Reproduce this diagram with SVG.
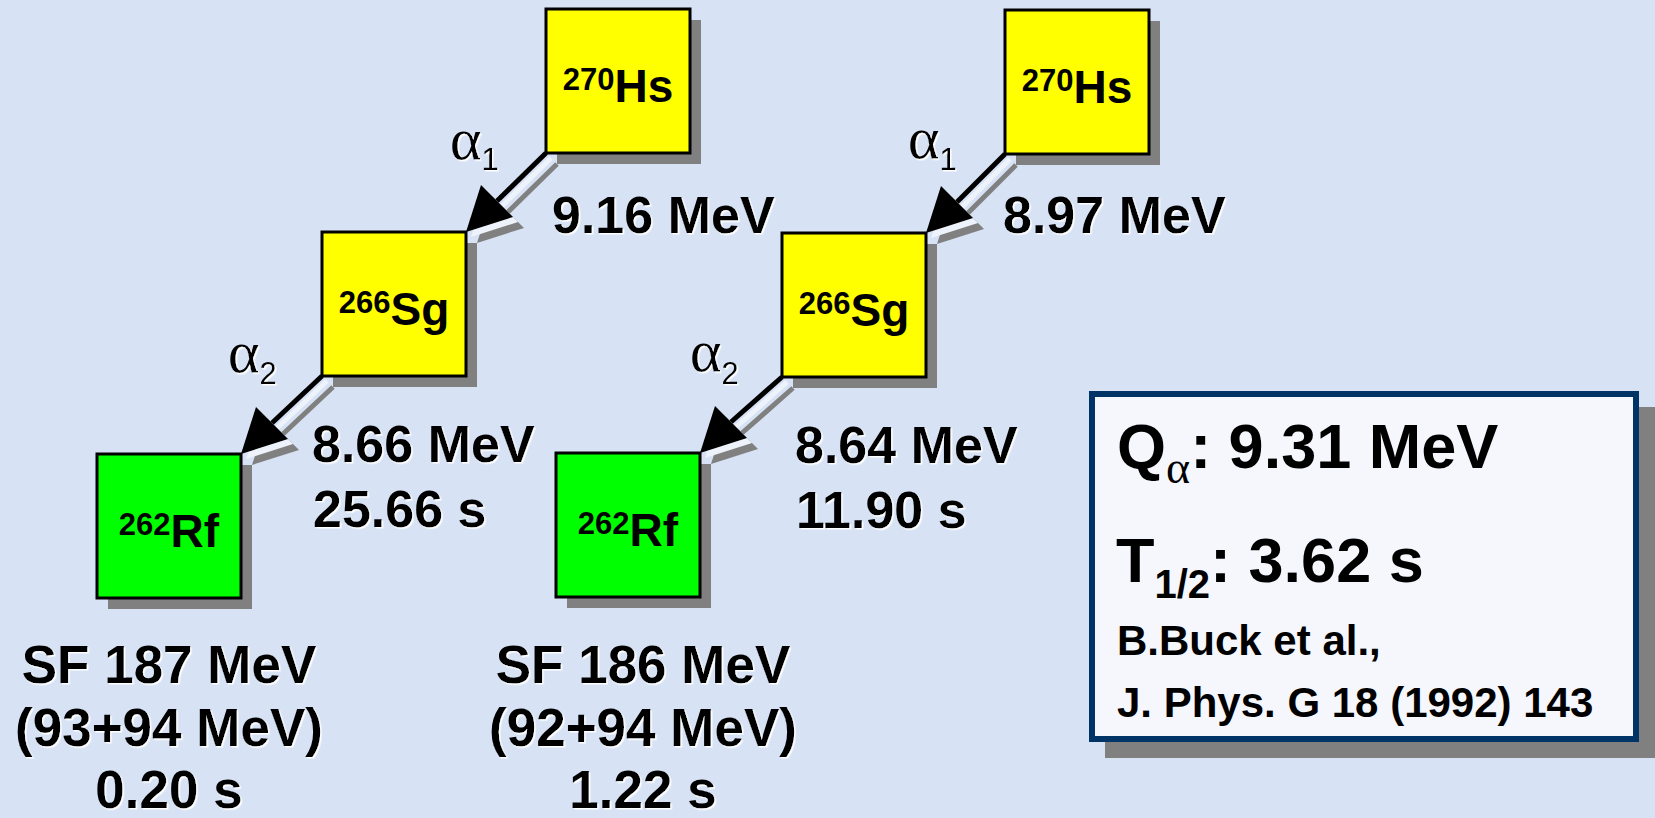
<svg xmlns="http://www.w3.org/2000/svg" width="1655" height="818" viewBox="0 0 1655 818">
<defs>
<filter id="ws" x="-2%" y="-5%" width="106%" height="112%">
<feDropShadow dx="1.5" dy="1.5" stdDeviation="0" flood-color="#ffffff" flood-opacity="1"/>
</filter>
<style>
.box{stroke:#000;stroke-width:3}
.y{fill:#ffff00}
.g{fill:#00ff00}
.sh{fill:#808080}
.nt{font-family:"Liberation Sans",Arial,sans-serif;font-weight:bold;fill:#000;text-anchor:middle}
.sup{font-size:31px}
.el{font-size:46px}
.lbl{font-family:"Liberation Sans",Arial,sans-serif;font-weight:bold;fill:#000;font-size:52px;filter:url(#ws)}
.sf{font-family:"Liberation Sans",Arial,sans-serif;font-weight:bold;fill:#000;font-size:53px;text-anchor:middle;filter:url(#ws)}
.al{font-family:"Liberation Serif","Times New Roman",serif;font-size:60px;fill:#000;filter:url(#ws)}
.sub{font-family:"Liberation Sans",Arial,sans-serif;font-size:31px}
.info{font-family:"Liberation Sans",Arial,sans-serif;font-weight:bold;fill:#000}
.shaft{stroke-width:5;fill:none}
</style>
</defs>
<rect x="0" y="0" width="1655" height="818" fill="#d7e3f5"/>

<g id="connectors">
  <g transform="translate(11,11)">
    <path class="shaft" stroke="#808080" d="M546,153 L497,201"/>
    <path class="sh" d="M466,232 L481,185 L513,217 Z"/>
    <path class="shaft" stroke="#808080" d="M322,376 L272,423"/>
    <path class="sh" d="M241,454 L256,407 L288,439 Z"/>
    <path class="shaft" stroke="#808080" d="M1005,154 L957,202"/>
    <path class="sh" d="M926,233 L941,186 L973,218 Z"/>
    <path class="shaft" stroke="#808080" d="M782,377 L731,422"/>
    <path class="sh" d="M700,453 L715,406 L747,438 Z"/>
  </g>
  <g transform="translate(5,5)" fill="#eef3fb">
    <path class="shaft" stroke="#eef3fb" stroke-width="4" d="M546,153 L497,201"/>
    <path d="M466,232 L481,185 L513,217 Z"/>
    <path class="shaft" stroke="#eef3fb" stroke-width="4" d="M322,376 L272,423"/>
    <path d="M241,454 L256,407 L288,439 Z"/>
    <path class="shaft" stroke="#eef3fb" stroke-width="4" d="M1005,154 L957,202"/>
    <path d="M926,233 L941,186 L973,218 Z"/>
    <path class="shaft" stroke="#eef3fb" stroke-width="4" d="M782,377 L731,422"/>
    <path d="M700,453 L715,406 L747,438 Z"/>
  </g>
  <g fill="#000">
    <path class="shaft" stroke="#000" d="M546,153 L497,201"/>
    <path d="M466,232 L481,185 L513,217 Z"/>
    <path class="shaft" stroke="#000" d="M322,376 L272,423"/>
    <path d="M241,454 L256,407 L288,439 Z"/>
    <path class="shaft" stroke="#000" d="M1005,154 L957,202"/>
    <path d="M926,233 L941,186 L973,218 Z"/>
    <path class="shaft" stroke="#000" d="M782,377 L731,422"/>
    <path d="M700,453 L715,406 L747,438 Z"/>
  </g>
</g>

<g id="hs1">
  <rect class="sh" x="557" y="20" width="144" height="144"/>
  <rect class="box y" x="546" y="9" width="144" height="144"/>
  <text class="nt" x="618" y="102"><tspan class="sup" dy="-12">270</tspan><tspan class="el" dy="12">Hs</tspan></text>
</g>
<g id="sg1">
  <rect class="sh" x="333" y="243" width="144" height="144"/>
  <rect class="box y" x="322" y="232" width="144" height="144"/>
  <text class="nt" x="394" y="325"><tspan class="sup" dy="-12">266</tspan><tspan class="el" dy="12">Sg</tspan></text>
</g>
<g id="rf1">
  <rect class="sh" x="108" y="465" width="144" height="144"/>
  <rect class="box g" x="97" y="454" width="144" height="144"/>
  <text class="nt" x="169" y="547"><tspan class="sup" dy="-12">262</tspan><tspan class="el" dy="12">Rf</tspan></text>
</g>
<g id="hs2">
  <rect class="sh" x="1016" y="21" width="144" height="144"/>
  <rect class="box y" x="1005" y="10" width="144" height="144"/>
  <text class="nt" x="1077" y="103"><tspan class="sup" dy="-12">270</tspan><tspan class="el" dy="12">Hs</tspan></text>
</g>
<g id="sg2">
  <rect class="sh" x="793" y="244" width="144" height="144"/>
  <rect class="box y" x="782" y="233" width="144" height="144"/>
  <text class="nt" x="854" y="326"><tspan class="sup" dy="-12">266</tspan><tspan class="el" dy="12">Sg</tspan></text>
</g>
<g id="rf2">
  <rect class="sh" x="567" y="464" width="144" height="144"/>
  <rect class="box g" x="556" y="453" width="144" height="144"/>
  <text class="nt" x="628" y="546"><tspan class="sup" dy="-12">262</tspan><tspan class="el" dy="12">Rf</tspan></text>
</g>

<g id="labels">
  <text class="al" x="450" y="159">α<tspan class="sub" dy="11">1</tspan></text>
  <text class="al" x="228" y="372">α<tspan class="sub" dy="12">2</tspan></text>
  <text class="al" x="908" y="158">α<tspan class="sub" dy="12">1</tspan></text>
  <text class="al" x="690" y="371">α<tspan class="sub" dy="13">2</tspan></text>
  <text class="lbl" x="552" y="233">9.16 MeV</text>
  <text class="lbl" x="1003" y="233">8.97 MeV</text>
  <text class="lbl" x="312" y="462">8.66 MeV</text>
  <text class="lbl" x="313" y="527">25.66 s</text>
  <text class="lbl" x="795" y="463">8.64 MeV</text>
  <text class="lbl" x="796" y="528">11.90 s</text>
  <text class="sf" x="169" y="683">SF 187 MeV</text>
  <text class="sf" x="169" y="746">(93+94 MeV)</text>
  <text class="sf" x="169" y="808">0.20 s</text>
  <text class="sf" x="643" y="683">SF 186 MeV</text>
  <text class="sf" x="643" y="746">(92+94 MeV)</text>
  <text class="sf" x="643" y="808">1.22 s</text>
</g>

<g id="info">
  <rect class="sh" x="1105" y="407" width="550" height="351"/>
  <rect x="1092" y="394" width="544" height="345" fill="#f5f7fd" stroke="#003366" stroke-width="6"/>
  <text class="info" x="1117" y="468" font-size="63">Q<tspan font-family="Liberation Serif,'Times New Roman',serif" font-weight="normal" font-size="46" dy="15">α</tspan><tspan dy="-15">: 9.31 MeV</tspan></text>
  <text class="info" x="1116" y="582" font-size="63">T<tspan font-size="40" dy="16">1/2</tspan><tspan dy="-16">: 3.62 s</tspan></text>
  <text class="info" x="1117" y="655" font-size="42">B.Buck et al.,</text>
  <text class="info" x="1117" y="717" font-size="42">J. Phys. G 18 (1992) 143</text>
</g>
</svg>
